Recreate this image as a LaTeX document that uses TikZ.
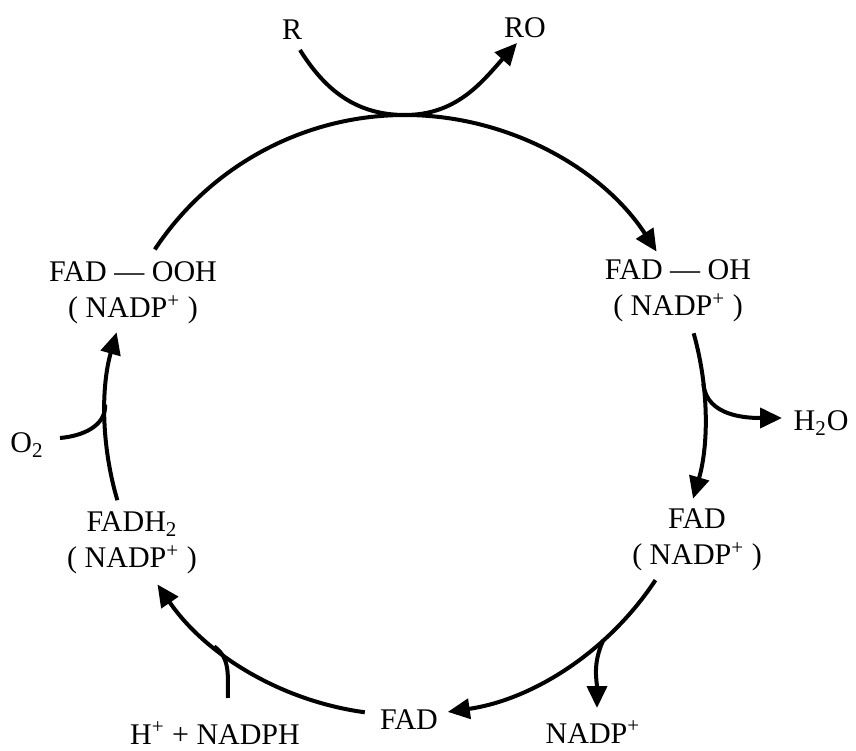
\documentclass[tikz,border=0pt]{standalone}
\usepackage{fontspec}
\setmainfont{Liberation Serif}
\usetikzlibrary{arrows.meta,calc}
\begin{document}
\begin{tikzpicture}[x=0.5pt,y=0.5pt,
  lab/.style={font=\fontsize{15}{17}\selectfont, inner sep=0pt, align=center},
  flow/.style={line width=2pt},
  tip/.style={-{Triangle[length=11pt,width=10pt]}}]
\useasboundingbox (0,0) rectangle (856,750);
\coordinate (c) at (405,335);
% species
\node[lab] (ooh) at (133,457) {FAD — OOH\\[1pt]( NADP\textsuperscript{+} )};
\node[lab] (oh) at (678,459) {FAD — OH\\[1pt]( NADP\textsuperscript{+} )};
\node[lab] (fadn) at (697,210) {FAD\\[1pt]( NADP\textsuperscript{+} )};
\node[lab] (fad) at (409,30) {FAD};
\node[lab] (fadh) at (132,207) {FADH\textsubscript{2}\\[1pt]( NADP\textsuperscript{+} )};
% side species
\node[lab] (R) at (292,720) {R};
\node[lab] (RO) at (525,722) {RO};
\node[lab] (h2o) at (821,327) {H\textsubscript{2}O};
\node[lab] (nadp) at (593,18) {NADP\textsuperscript{+}};
\node[lab] (nadph) at (215,17) {H\textsuperscript{+} + NADPH};
\node[lab] (o2) at (27,305) {O\textsubscript{2}};
% points on the cycle
\coordinate (t1) at ($(c)+(146.5:300)$);
\coordinate (t2) at ($(c)+(33:300)$);
\coordinate (r1) at ($(c)+(15.8:300)$);
\coordinate (r2) at ($(c)+(-16.2:300)$);
\coordinate (b1) at ($(c)+(-33.4:300)$);
\coordinate (b2) at ($(c)+(-81.8:300)$);
\coordinate (l1) at ($(c)+(-97.7:300)$);
\coordinate (l2) at ($(c)+(-145.6:300)$);
\coordinate (u1) at ($(c)+(196.5:300)$);
\coordinate (u2) at ($(c)+(164:300)$);
% branch points
\coordinate (top) at ($(c)+(90:300)$);
\coordinate (rs) at (300,700);
\coordinate (rt) at (517,707);
\coordinate (hj) at ($(c)+(6:300)$);
\coordinate (ht) at (782,332);
\coordinate (nj) at ($(c)+(-48.6:300)$);
\coordinate (nt) at (597,42);
\coordinate (pj) at ($(c)+(-129.5:300)$);
\coordinate (ps) at (228,52);
\coordinate (oj) at ($(c)+(178:300)$);
\coordinate (os) at (60,312);
% main cycle
\draw[flow,tip] (t1) arc[start angle=146.5, end angle=33, radius=300];
\draw[flow,tip] (r1) arc[start angle=15.8, end angle=-16.2, radius=300];
\draw[flow,tip] (b1) arc[start angle=-33.4, end angle=-81.8, radius=300];
\draw[flow,tip] (l1) arc[start angle=-97.7, end angle=-145.6, radius=300];
\draw[flow,tip] (u1) arc[start angle=196.5, end angle=164, radius=300];
% branches
\draw[flow,tip] (rs) to[out=-58, in=180] (top) to[out=0, in=-132] (rt);
\draw[flow,tip] (hj) to[out=-85, in=180] (ht);
\draw[flow,tip] (nj) to[out=-115, in=90] (nt);
\draw[flow] (ps) to[out=92, in=-35] (pj);
\draw[flow] (os) to[out=5, in=-88] (oj);
\end{tikzpicture}
\end{document}
